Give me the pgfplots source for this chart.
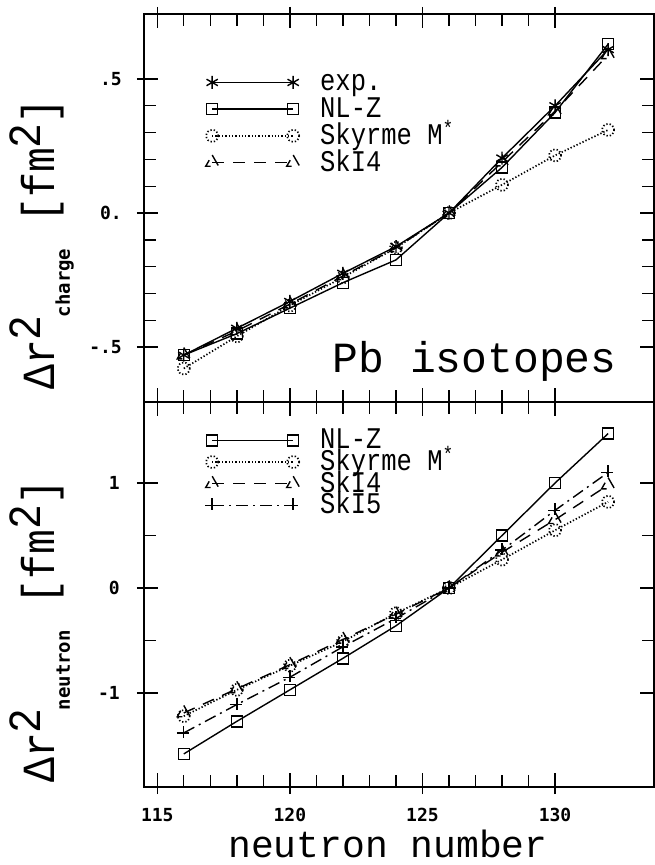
\documentclass[border=0pt]{standalone}
\usepackage{pgfplots}
\pgfplotsset{compat=1.18}
\usepackage{fontspec}
\setmainfont{Liberation Mono}
\newfontfamily\tickfont{DejaVu Sans Mono}
\newfontfamily\labfont[FakeStretch=0.9]{Liberation Mono}
\newfontfamily\legfont[FakeStretch=0.85]{Liberation Mono}
\newfontfamily\bigfont{Liberation Mono}
\newcommand{\TF}{\tickfont\bfseries\fontsize{18}{18}\selectfont}
\newcommand{\ylab}[1]{{\labfont\fontsize{46}{46}\selectfont
 Δr\raisebox{14pt}{2}\kern-2pt{\raisebox{-15pt}{\TF\fontsize{19}{19}\selectfont #1}}\hspace{26pt}[fm\raisebox{14pt}{2}]}}

\pgfplotsset{
  base/.style={
    scale only axis, width=510pt,
    xmin=114.5, xmax=133.73,
    xtick={115,120,125,130}, minor x tick num=4,
    xtick pos=both, ytick pos=both,
    xticklabel pos=lower, yticklabel pos=left,
    tick align=inside,
    major tick length=14pt, minor tick length=12pt,
    tick style={line width=1.4pt, black},
    axis line style={line width=1.6pt},
    ticklabel style={font=\TF},
    extra x ticks={115,120,125,130}, extra x tick labels={},
    extra tick style={tick align=outside, major tick length=7pt},
    every mark/.append style={solid, line width=1.4pt},
    clip=false,
    legend cell align=left,
    legend image code/.code={
      \draw[##1] plot coordinates {(0pt,8.5pt) (81pt,8.5pt)};
      \path[draw=none,fill=none] (-7pt,0.5pt) rectangle (108pt,16.5pt);
    },
  },
  pexp/.style={black, line width=1.4pt, mark=asterisk, mark size=6.5pt},
  pnlz/.style={black, line width=1.4pt, mark=square, mark size=5.5pt},
  psky/.style={black, line width=1.7pt, dash pattern=on 1.3pt off 2pt, mark=o, mark size=6pt},
  pski4/.style={black, line width=1.4pt, dash pattern=on 12pt off 9pt, mark=triangle, mark size=7.5pt},
  pski5/.style={black, line width=1.4pt, dash pattern=on 12pt off 5pt on 2pt off 5pt, mark=+, mark size=7pt},
}

\begin{document}
\begin{tikzpicture}[x=1pt,y=1pt]
\useasboundingbox (-144pt,-78pt) rectangle (511pt,787pt);

\begin{axis}[base, at={(0pt,0pt)}, anchor=south west, height=385pt,
  ymin=-1.895, ymax=1.771,
  ytick={-1,0,1}, yticklabels={-1,0,1}, minor y tick num=1,
  extra y ticks={-1,0,1}, extra y tick labels={},
  xticklabels={115,120,125,130},
  xticklabel style={inner sep=0pt, anchor=north, yshift=-21pt},
  yticklabel style={inner sep=0pt, anchor=east, xshift=-24pt},
  legend style={at={(rel axis cs:0.1196,0.923)}, anchor=north west, draw=none, fill=none,
    inner sep=0pt, row sep=4.7pt, font=\legfont\fontsize{30}{30}\selectfont,
    nodes={inner sep=0pt, text height=17pt, text depth=0pt, anchor=base west}},
]
\addplot[pnlz] coordinates {(116,-1.58) (118,-1.27) (120,-0.97) (122,-0.67) (124,-0.36) (126,0) (128,0.50) (130,1.00) (132,1.47)};
\addlegendentry{NL-Z}
\addplot[psky] coordinates {(116,-1.22) (118,-0.97) (120,-0.74) (122,-0.51) (124,-0.24) (126,0) (128,0.27) (130,0.55) (132,0.82)};
\addlegendentry{Skyrme M\textsuperscript{*}}
\addplot[pski4] coordinates {(116,-1.19) (118,-0.96) (120,-0.73) (122,-0.49) (124,-0.25) (126,0) (128,0.34) (130,0.65) (132,0.98)};
\addlegendentry{SkI4}
\addplot[pski5] coordinates {(116,-1.38) (118,-1.11) (120,-0.85) (122,-0.56) (124,-0.29) (126,0) (128,0.36) (130,0.74) (132,1.10)};
\addlegendentry{SkI5}
\end{axis}

\begin{axis}[base, at={(0pt,385pt)}, anchor=south west, height=388pt,
  ymin=-0.705, ymax=0.7425,
  ytick={-0.5,0,0.5}, yticklabels={-.5,0.,.5}, minor y tick num=4,
  extra y ticks={-0.5,0,0.5}, extra y tick labels={},
  xticklabels={},
  yticklabel style={inner sep=0pt, anchor=east, xshift=-22pt},
  legend style={at={(rel axis cs:0.1196,0.846)}, anchor=north west, draw=none, fill=none,
    inner sep=0pt, row sep=9.7pt, font=\legfont\fontsize{30}{30}\selectfont,
    nodes={inner sep=0pt, text height=17pt, text depth=0pt, anchor=base west}},
]
\addplot[pexp] coordinates {(116,-0.53) (118,-0.43) (120,-0.33) (122,-0.225) (124,-0.125) (126,0) (128,0.205) (130,0.40) (132,0.61)};
\addlegendentry{exp.}
\addplot[pnlz] coordinates {(116,-0.53) (118,-0.45) (120,-0.355) (122,-0.26) (124,-0.175) (126,0) (128,0.17) (130,0.375) (132,0.63)};
\addlegendentry{NL-Z}
\addplot[psky] coordinates {(116,-0.58) (118,-0.46) (120,-0.345) (122,-0.24) (124,-0.13) (126,0) (128,0.105) (130,0.215) (132,0.31)};
\addlegendentry{Skyrme M\textsuperscript{*}}
\addplot[pski4] coordinates {(116,-0.53) (118,-0.44) (120,-0.34) (122,-0.235) (124,-0.13) (126,0) (128,0.19) (130,0.38) (132,0.59)};
\addlegendentry{SkI4}
\node[anchor=base east, inner sep=0pt, font=\bigfont\fontsize{43}{43}\selectfont] at (rel axis cs:0.927,0.077) {Pb isotopes};
\end{axis}

\node[anchor=base, inner sep=0pt, font=\bigfont\fontsize{38}{38}\selectfont] at (244pt,-70pt) {neutron number};
\node[rotate=90, anchor=base west, inner sep=0pt] at (-89pt,397pt) {\ylab{charge}};
\node[rotate=90, anchor=base west, inner sep=0pt] at (-89pt,4pt) {\ylab{neutron}};
\end{tikzpicture}
\end{document}
